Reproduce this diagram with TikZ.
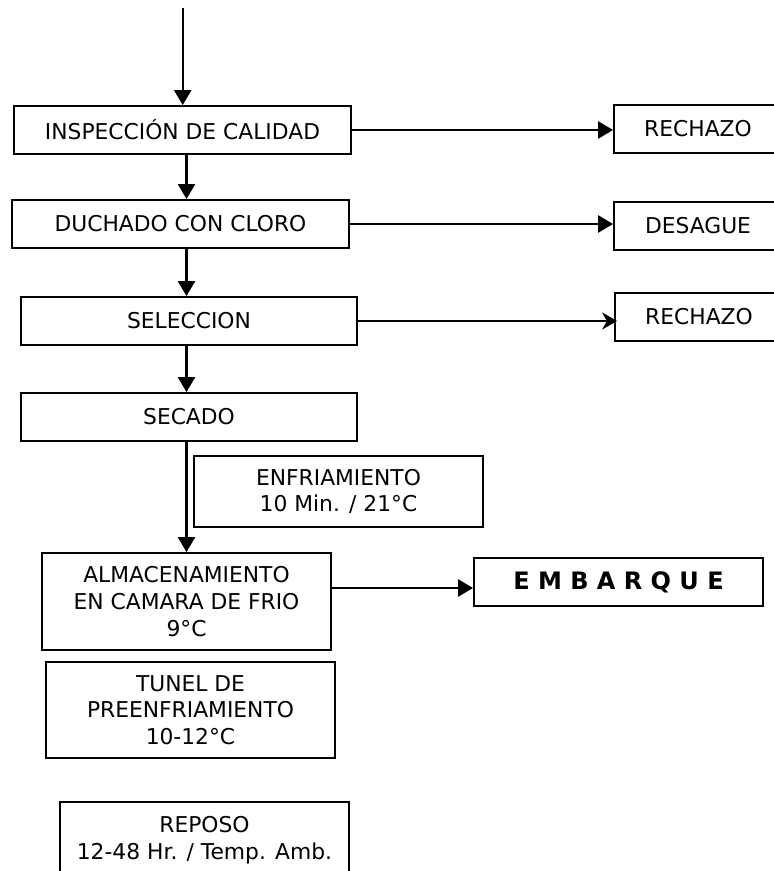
\documentclass[tikz,border=0pt]{standalone}
\usepackage{fontspec}
\setmainfont{DejaVu Sans}
\usetikzlibrary{arrows.meta,positioning}
\definecolor{negro}{HTML}{000000}
\tikzset{
  caja/.style={draw=negro,line width=0.9pt,align=center,
               font=\fontsize{10.9}{13.4}\selectfont,inner sep=2pt},
  flecha/.style={-{Triangle[length=7.5pt,width=8.5pt]},line width=1.2pt,color=negro},
}

\begin{document}
\begin{tikzpicture}[x=0.5pt,y=-0.5pt,
  paso/.style={caja,minimum width=168.5pt,minimum height=24pt},
  etapa/.style={caja,minimum width=144.5pt},
  salida/.style={caja,minimum width=84pt,minimum height=24pt}]
  \useasboundingbox (0,0) rectangle (774,871);
  % linea principal
  \node[paso] (insp) at (182.5,130) {INSPECCIÓN DE CALIDAD};
  \node[paso] (duch) at (180.5,224) {DUCHADO CON CLORO};
  \node[paso,minimum width=168pt] (sel) at (189,321) {SELECCION};
  \node[paso,minimum width=168pt] (sec) at (189,417) {SECADO};
  \node[etapa,minimum height=35.5pt] (enfr) at (338.5,491.5) {ENFRIAMIENTO\\10 Min. / 21°C};
  \node[etapa,minimum height=48.5pt] (alm) at (186.5,601.5) {ALMACENAMIENTO\\EN CAMARA DE FRIO\\9°C};
  \node[etapa,minimum height=48pt] (tun) at (190.5,710) {TUNEL DE\\PREENFRIAMIENTO\\10-12°C};
  \node[etapa,minimum height=38pt] (rep) at (204.5,840) {REPOSO\\12-48 Hr. / Temp. Amb.};
  % salidas
  \node[salida] (rech1) at (698,129) {RECHAZO};
  \node[salida] (desag) at (698,226) {DESAGUE};
  \node[salida] (rech2) at (699,317) {RECHAZO};
  \node[paso,minimum width=144.5pt,font=\fontsize{12}{14}\selectfont\bfseries] (emb) at (618.5,582) {E M B A R Q U E};
  \coordinate (inicio) at (182.7,8);
  \draw[flecha] (inicio) -- (inicio |- insp.north);
  \foreach \u/\v in {insp/duch,duch/sel,sel/sec,sec/alm} \draw[flecha] (\u.south -| alm) -- (\v.north -| alm);
  \foreach \u/\v in {insp/rech1,duch/desag} \draw[flecha] (\u.east) -- (\u.east -| \v.west);
  \draw[flecha,-{Stealth[length=7.5pt,width=8.5pt]}] (sel.east) -- ([xshift=1.5pt]sel.east -| rech2.west);
  \draw[flecha] ([yshift=6.75pt]alm.east) -- ([yshift=6.75pt]alm.east -| emb.west);
\end{tikzpicture}
\end{document}
